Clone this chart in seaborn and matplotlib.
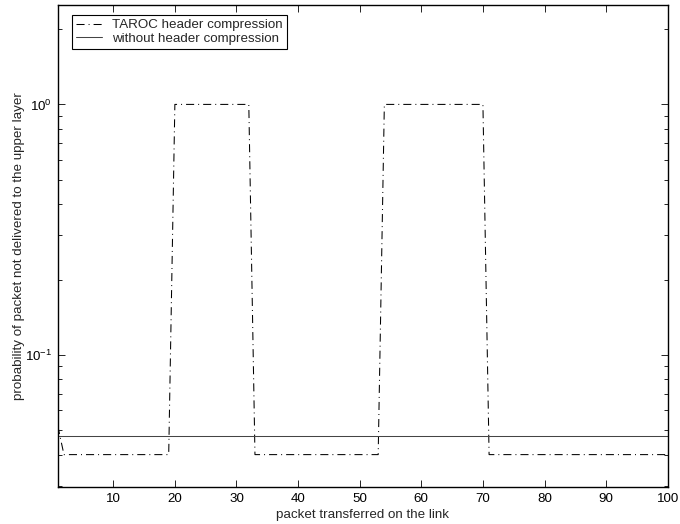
import matplotlib
matplotlib.use("Agg")
import matplotlib.pyplot as plt
import seaborn as sns
import pandas as pd
from matplotlib.ticker import LogLocator, NullFormatter

# ---- data ----
packets = list(range(1, 101))
taroc = [
    0.052, 0.04, 0.04, 0.04, 0.04, 0.04, 0.04, 0.04, 0.04, 0.04,
    0.04, 0.04, 0.04, 0.04, 0.04, 0.04, 0.04, 0.04, 0.04, 1.0,
    1.0, 1.0, 1.0, 1.0, 1.0, 1.0, 1.0, 1.0, 1.0, 1.0,
    1.0, 1.0, 0.04, 0.04, 0.04, 0.04, 0.04, 0.04, 0.04, 0.04,
    0.04, 0.04, 0.04, 0.04, 0.04, 0.04, 0.04, 0.04, 0.04, 0.04,
    0.04, 0.04, 0.04, 1.0, 1.0, 1.0, 1.0, 1.0, 1.0, 1.0,
    1.0, 1.0, 1.0, 1.0, 1.0, 1.0, 1.0, 1.0, 1.0, 1.0,
    0.04, 0.04, 0.04, 0.04, 0.04, 0.04, 0.04, 0.04, 0.04, 0.04,
    0.04, 0.04, 0.04, 0.04, 0.04, 0.04, 0.04, 0.04, 0.04, 0.04,
    0.04, 0.04, 0.04, 0.04, 0.04, 0.04, 0.04, 0.04, 0.04, 0.04,
]
without = [0.0475] * 100
series_names = ["TAROC header compression", "without header compression"]
x_ticks = [10, 20, 30, 40, 50, 60, 70, 80, 90, 100]

sns.set_style("ticks")
plt.rcParams["font.family"] = ["Liberation Sans", "DejaVu Sans"]
plt.rcParams["lines.scale_dashes"] = False
plt.rcParams["mathtext.fontset"] = "custom"
plt.rcParams["mathtext.rm"] = "Liberation Sans"

FS = 9.6

df = pd.DataFrame({
    "packet": packets * 2,
    "value": taroc + without,
    "series": [series_names[0]] * len(packets) + [series_names[1]] * len(packets),
})

fig = plt.figure(figsize=(6.8, 5.24), dpi=100)
ax = fig.add_axes([0.085, 0.0706, 0.897, 0.9204])

sns.lineplot(data=df, x="packet", y="value", hue="series", style="series",
             palette=["black", "#444444"],
             dashes={series_names[0]: (5.8, 2.9, 0.7, 2.9), series_names[1]: ""},
             linewidth=0.75, ax=ax, legend=True)

ax.set_yscale("log")
ax.set_xlim(1, 100)
ax.set_ylim(0.0297, 2.5)
ax.set_xticks(x_ticks)
ax.set_xticklabels([str(t) for t in x_ticks])
ax.yaxis.set_major_locator(LogLocator(base=10))
ax.yaxis.set_minor_locator(LogLocator(base=10, subs=range(2, 10)))
ax.yaxis.set_minor_formatter(NullFormatter())

for s in ax.spines.values():
    s.set_visible(True)
    s.set_linewidth(1.0)
    s.set_color("black")

ax.tick_params(axis="both", which="both", direction="in", top=True, right=True,
               labelsize=FS, colors="black")
ax.tick_params(axis="both", which="major", length=5, width=0.6, pad=4)
ax.tick_params(axis="y", which="minor", length=3, width=0.6)
ax.tick_params(axis="x", which="minor", length=0)

ax.set_xlabel("packet transferred on the link", fontsize=FS, labelpad=3)
ax.set_ylabel("probability of packet not delivered to the upper layer", fontsize=FS, labelpad=0)

leg = ax.legend(loc="upper left", bbox_to_anchor=(0.023, 0.979), borderaxespad=0,
                fontsize=FS, frameon=True, fancybox=False,
                edgecolor="black", framealpha=1, handlelength=2.0,
                borderpad=0.3, labelspacing=0.12, handletextpad=0.75)
leg.get_frame().set_linewidth(0.8)
ax.grid(False)

fig.savefig("out.png", dpi=100)
